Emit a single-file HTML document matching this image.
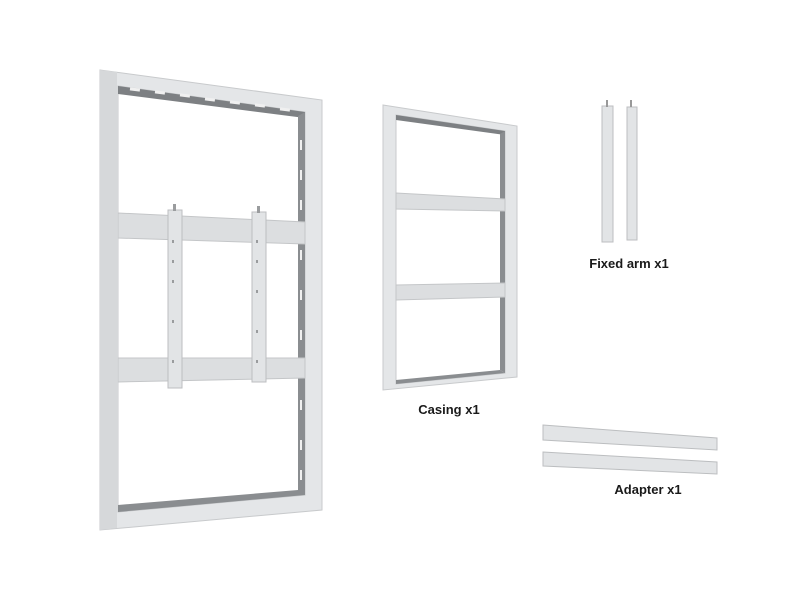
<!DOCTYPE html>
<html><head><style>
html,body{margin:0;padding:0;background:#fff;}
svg{display:block}
text{font-family:"Liberation Sans",sans-serif;font-weight:bold;font-size:13px;fill:#1a1a1a}
</style></head><body>
<svg width="800" height="600" viewBox="0 0 800 600">
<!-- Big frame -->
<path d="M100,70 L322,100 L322,510 L100,530 Z M118,86 L118,512 L305,495 L305,112 Z" fill="#e4e6e8" fill-rule="evenodd" stroke="#c8cacc" stroke-width="1"/>
<path d="M100,70 L117,72 L117,528 L100,530 Z" fill="#d6d8da"/>
<!-- inner depth -->
<path d="M118,86 L305,112 L305,118 L118,94 Z" fill="#7d8083"/>
<path d="M298,116 L305,112 L305,495 L298,492 Z" fill="#8a8d90"/>
<path d="M118,505 L298,490 L305,495 L118,512 Z" fill="#8a8d90"/>
<g fill="#f0f0f0">
<rect x="130" y="88" width="10" height="3" transform="rotate(7 135 89)"/>
<rect x="155" y="91" width="10" height="3" transform="rotate(7 160 92)"/>
<rect x="180" y="94" width="10" height="3" transform="rotate(7 185 95)"/>
<rect x="205" y="98" width="10" height="3" transform="rotate(7 210 99)"/>
<rect x="230" y="101" width="10" height="3" transform="rotate(7 235 102)"/>
<rect x="255" y="104" width="10" height="3" transform="rotate(7 260 105)"/>
<rect x="280" y="108" width="10" height="3" transform="rotate(7 285 109)"/>
<rect x="300" y="140" width="2" height="10"/><rect x="300" y="170" width="2" height="10"/><rect x="300" y="200" width="2" height="10"/>
<rect x="300" y="250" width="2" height="10"/><rect x="300" y="290" width="2" height="10"/><rect x="300" y="330" width="2" height="10"/>
<rect x="300" y="400" width="2" height="10"/><rect x="300" y="440" width="2" height="10"/><rect x="300" y="470" width="2" height="10"/>
</g>
<!-- horizontal bars -->
<path d="M118,213 L305,222 L305,244 L118,238 Z" fill="#dcdee0" stroke="#c4c6c8"/>
<path d="M118,358 L305,358 L305,378 L118,382 Z" fill="#dcdee0" stroke="#c4c6c8"/>
<!-- vertical arms -->
<rect x="168" y="210" width="14" height="178" fill="#e2e4e6" stroke="#bcbec0"/>
<rect x="252" y="212" width="14" height="170" fill="#e2e4e6" stroke="#bcbec0"/>
<g fill="#9a9c9e">
<rect x="173" y="204" width="3" height="7"/><rect x="257" y="206" width="3" height="7"/>
<rect x="172" y="240" width="2" height="3"/><rect x="172" y="260" width="2" height="3"/><rect x="172" y="280" width="2" height="3"/><rect x="172" y="320" width="2" height="3"/><rect x="172" y="360" width="2" height="3"/>
<rect x="256" y="240" width="2" height="3"/><rect x="256" y="260" width="2" height="3"/><rect x="256" y="290" width="2" height="3"/><rect x="256" y="330" width="2" height="3"/><rect x="256" y="360" width="2" height="3"/>
</g>
<!-- Casing -->
<path d="M383,105 L517,126 L517,377 L383,390 Z M396,115 L396,384 L505,373 L505,131 Z" fill="#e4e6e8" fill-rule="evenodd" stroke="#c8cacc"/>
<path d="M396,115 L505,131 L505,135 L396,120 Z" fill="#7d8083"/>
<path d="M500,134 L505,131 L505,373 L500,370 Z" fill="#8a8d90"/>
<path d="M396,380 L500,370 L505,373 L396,384 Z" fill="#8a8d90"/>
<path d="M396,193 L505,199 L505,211 L396,209 Z" fill="#dcdee0" stroke="#c4c6c8"/>
<path d="M396,285 L505,283 L505,297 L396,300 Z" fill="#dcdee0" stroke="#c4c6c8"/>
<!-- Fixed arms -->
<rect x="602" y="106" width="11" height="136" fill="#e2e4e6" stroke="#bcbec0"/>
<rect x="627" y="107" width="10" height="133" fill="#e2e4e6" stroke="#bcbec0"/>
<rect x="606" y="100" width="2" height="7" fill="#999"/><rect x="630" y="100" width="2" height="7" fill="#999"/>
<!-- Adapters -->
<path d="M543,425 L717,438 L717,450 L543,440 Z" fill="#e2e4e6" stroke="#bcbec0"/>
<path d="M543,452 L717,462 L717,474 L543,466 Z" fill="#e2e4e6" stroke="#bcbec0"/>
<text x="629" y="268" text-anchor="middle">Fixed arm x1</text>
<text x="449" y="414" text-anchor="middle">Casing x1</text>
<text x="648" y="494" text-anchor="middle">Adapter x1</text>
</svg>
</body></html>
